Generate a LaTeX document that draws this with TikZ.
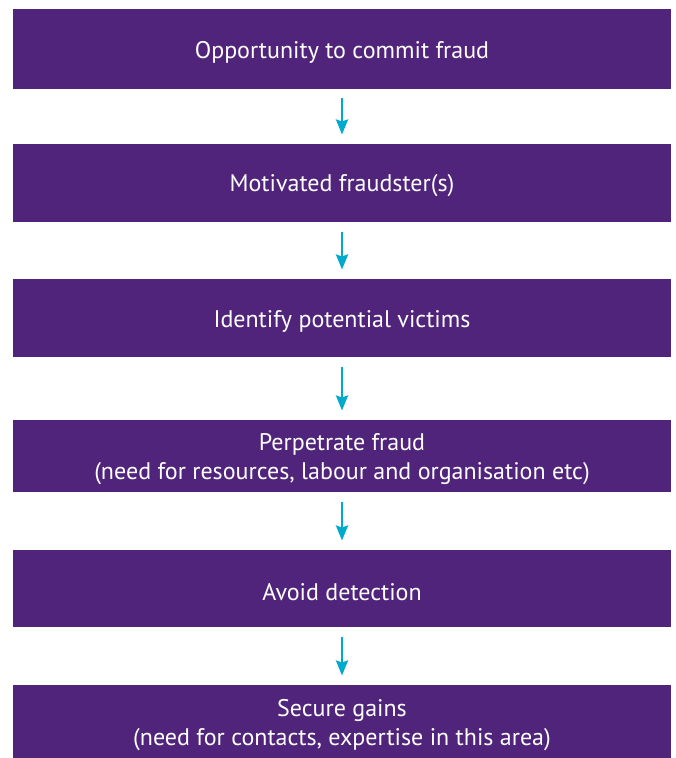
\documentclass[tikz,border=0pt]{standalone}
\usepackage{fontspec}
\setmainfont{PT Sans}
\usetikzlibrary{arrows.meta}
\definecolor{boxpurple}{RGB}{81,36,124}
\definecolor{arrowcyan}{RGB}{0,170,204}
\tikzset{
  stagebox/.style={fill=boxpurple, draw=none, minimum width=658pt,
    inner sep=0pt, anchor=north},
  stagetext/.style={text=white, align=center, inner sep=0pt,
    font=\fontsize{24}{29}\selectfont, yshift=-3pt},
  flowarrow/.style={draw=arrowcyan, line width=2.6pt,
    -{Stealth[length=15pt,width=12pt,inset=2pt]},
    shorten <=9.5pt, shorten >=9.5pt}
}
\begin{document}
\begin{tikzpicture}[x=1pt,y=-1pt]
\useasboundingbox (0,0) rectangle (676,758);
\node[stagebox, minimum height=79.5pt] (b1) at (342,9) {};
\node[stagebox, minimum height=77.7pt] (b2) at (342,144) {};
\node[stagebox, minimum height=77.7pt] (b3) at (342,279) {};
\node[stagebox, minimum height=72pt] (b4) at (342,420) {};
\node[stagebox, minimum height=77pt] (b5) at (342,550) {};
\node[stagebox, minimum height=73pt] (b6) at (342,685) {};
\node[stagetext] (t1) at (b1.center) {Opportunity to commit fraud};
\node[stagetext] (t2) at (b2.center) {Motivated fraudster(s)};
\node[stagetext] (t3) at (b3.center) {Identify potential victims};
\node[stagetext] (t4) at (b4.center) {Perpetrate fraud\\(need for resources, labour and organisation etc)};
\node[stagetext] (t5) at (b5.center) {Avoid detection};
\node[stagetext] (t6) at (b6.center) {Secure gains\\(need for contacts, expertise in this area)};
\draw[flowarrow] (b1.south) -- (b2.north);
\draw[flowarrow] (b2.south) -- (b3.north);
\draw[flowarrow] (b3.south) -- (b4.north);
\draw[flowarrow] (b4.south) -- (b5.north);
\draw[flowarrow] (b5.south) -- (b6.north);
\end{tikzpicture}
\end{document}
